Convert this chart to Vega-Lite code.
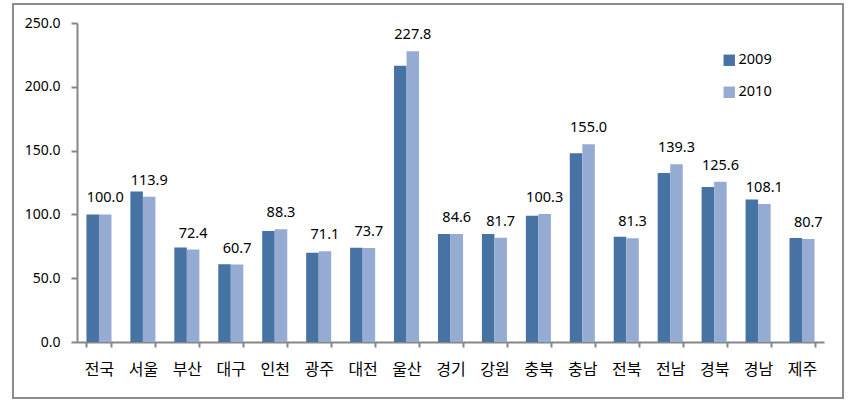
{
  "$schema": "https://vega.github.io/schema/vega-lite/v6.json",
  "width": 830,
  "height": 394,
  "autosize": {"type": "none"},
  "padding": {"left": 13, "top": 4, "right": 8, "bottom": 6},
  "background": "white",
  "config": {
    "view": {"stroke": "#8c8c8c", "strokeWidth": 2},
    "font": "Noto Sans"
  },
  "data": {
    "values": [
      {"region": "전국", "year": "2009", "value": 100.0},
      {"region": "전국", "year": "2010", "value": 100.0},
      {"region": "서울", "year": "2009", "value": 118.0},
      {"region": "서울", "year": "2010", "value": 113.9},
      {"region": "부산", "year": "2009", "value": 74.0},
      {"region": "부산", "year": "2010", "value": 72.4},
      {"region": "대구", "year": "2009", "value": 61.0},
      {"region": "대구", "year": "2010", "value": 60.7},
      {"region": "인천", "year": "2009", "value": 87.0},
      {"region": "인천", "year": "2010", "value": 88.3},
      {"region": "광주", "year": "2009", "value": 69.9},
      {"region": "광주", "year": "2010", "value": 71.1},
      {"region": "대전", "year": "2009", "value": 73.9},
      {"region": "대전", "year": "2010", "value": 73.7},
      {"region": "울산", "year": "2009", "value": 216.5},
      {"region": "울산", "year": "2010", "value": 227.8},
      {"region": "경기", "year": "2009", "value": 84.6},
      {"region": "경기", "year": "2010", "value": 84.6},
      {"region": "강원", "year": "2009", "value": 84.6},
      {"region": "강원", "year": "2010", "value": 81.7},
      {"region": "충북", "year": "2009", "value": 99.0},
      {"region": "충북", "year": "2010", "value": 100.3},
      {"region": "충남", "year": "2009", "value": 148.0},
      {"region": "충남", "year": "2010", "value": 155.0},
      {"region": "전북", "year": "2009", "value": 82.5},
      {"region": "전북", "year": "2010", "value": 81.3},
      {"region": "전남", "year": "2009", "value": 132.4},
      {"region": "전남", "year": "2010", "value": 139.3},
      {"region": "경북", "year": "2009", "value": 121.5},
      {"region": "경북", "year": "2010", "value": 125.6},
      {"region": "경남", "year": "2009", "value": 111.6},
      {"region": "경남", "year": "2010", "value": 108.1},
      {"region": "제주", "year": "2009", "value": 81.6},
      {"region": "제주", "year": "2010", "value": 80.7}
    ]
  },
  "encoding": {
    "x": {
      "field": "region",
      "type": "nominal",
      "sort": null,
      "scale": {"range": [64, 811], "paddingInner": 0.43, "paddingOuter": 0.215},
      "axis": {
        "title": null,
        "offset": -56,
        "labelAngle": 0,
        "ticks": true,
        "tickBand": "extent",
        "domainColor": "#868686",
        "domainWidth": 2,
        "tickColor": "#868686",
        "tickWidth": 2,
        "tickSize": 5,
        "labelFontSize": 16,
        "labelFont": "Noto Sans CJK KR",
        "labelPadding": 14,
        "labelColor": "#000000"
      }
    },
    "y": {
      "field": "value",
      "type": "quantitative",
      "scale": {"domain": [0, 250], "range": [338, 19], "nice": false},
      "axis": {
        "title": null,
        "values": [0, 50, 100, 150, 200, 250],
        "format": ".1f",
        "offset": -64,
        "grid": false,
        "domainColor": "#868686",
        "domainWidth": 2,
        "tickColor": "#868686",
        "tickWidth": 2,
        "tickSize": 6,
        "labelPadding": 11,
        "labelFontSize": 14,
        "labelFont": "Noto Sans",
        "labelColor": "#000000"
      }
    },
    "xOffset": {"field": "year", "type": "nominal", "scale": {"paddingInner": 0, "paddingOuter": 0}}
  },
  "layer": [
    {
      "mark": {"type": "bar"},
      "encoding": {
        "color": {
          "field": "year",
          "type": "nominal",
          "scale": {"domain": ["2009", "2010"], "range": ["#4672a4", "#95abd2"]},
          "legend": {
            "orient": "none",
            "legendX": 709,
            "legendY": 49,
            "title": null,
            "padding": 0,
            "symbolType": "square",
            "symbolSize": 130,
            "symbolStrokeWidth": 0,
            "labelFontSize": 14.5,
            "labelFont": "Noto Sans",
            "labelColor": "#000000",
            "labelOffset": 2,
            "rowPadding": 17
          }
        }
      }
    },
    {
      "transform": [{"filter": "datum.year == '2010'"}],
      "mark": {"type": "text", "dy": -12, "baseline": "alphabetic", "fontSize": 14.5, "font": "Noto Sans", "color": "#000000"},
      "encoding": {
        "text": {"field": "value", "type": "quantitative", "format": ".1f"}
      }
    }
  ]
}
